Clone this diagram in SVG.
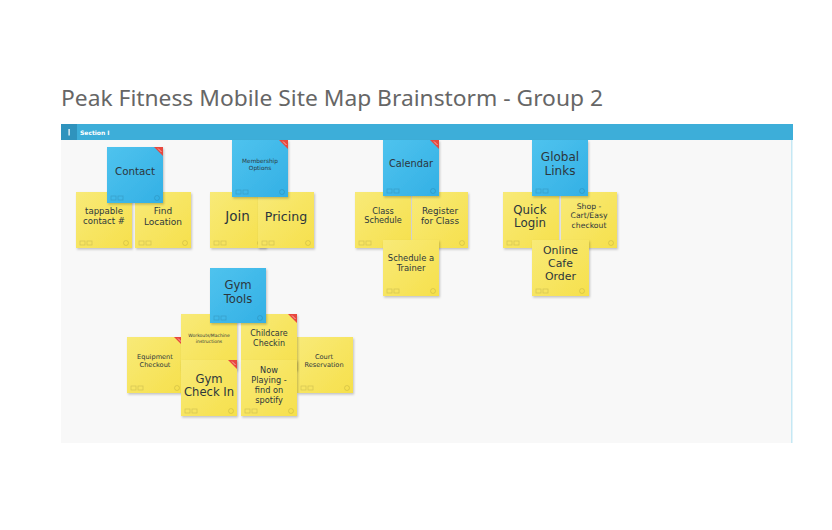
<svg xmlns="http://www.w3.org/2000/svg" width="832" height="530" viewBox="0 0 832 530">
<defs>
<linearGradient id="gy" x1="0" y1="0" x2="1" y2="1">
<stop offset="0" stop-color="#f8ea78"/><stop offset="1" stop-color="#f6e04c"/>
</linearGradient>
<linearGradient id="gb" x1="0" y1="0" x2="1" y2="1">
<stop offset="0" stop-color="#4fc3ee"/><stop offset="1" stop-color="#33b0e5"/>
</linearGradient>
<filter id="sh" x="-20%" y="-20%" width="150%" height="150%">
<feDropShadow dx="1" dy="1.5" stdDeviation="1.2" flood-color="#000" flood-opacity="0.22"/>
</filter>
<g id="foot" fill="none" stroke="#000" stroke-opacity="0.13" stroke-width="0.8">
<rect x="4" y="49" width="5" height="4"/>
<rect x="11" y="49" width="5" height="4"/>
<circle cx="50" cy="51" r="2.5"/>
</g>
<g id="tag">
<polygon points="47,0 56,0 56,9" fill="#e8473e"/>
<path d="M51,1.5 L54.5,5" stroke="#fff" stroke-width="0.7" stroke-opacity="0.8"/>
</g>
</defs>
<style>
.y{fill:url(#gy);filter:url(#sh)}
.b{fill:url(#gb);filter:url(#sh)}
text{font-family:"DejaVu Sans","Noto Sans",sans-serif;fill:#2c363c;text-anchor:middle}
.title{font-family:"Noto Sans","Open Sans","Liberation Sans",sans-serif;fill:#666;text-anchor:start;font-size:22px}
.sec{fill:#fff;text-anchor:start;font-size:6px;font-weight:bold}
</style>

<text class="title" x="61" y="106" textLength="542" lengthAdjust="spacingAndGlyphs">Peak Fitness Mobile Site Map Brainstorm - Group 2</text>

<g id="section">
<rect x="61" y="140" width="731" height="303" fill="#f8f8f8"/>
<rect x="791" y="140" width="1.5" height="303" fill="#c5e8f4"/>
<rect x="61" y="124" width="732" height="16" fill="#3daed9"/>
<rect x="61" y="124" width="16" height="16" fill="#2f93bd"/>
<rect x="68.5" y="129" width="1.2" height="6.5" fill="#fff"/>
<text class="sec" x="80" y="134.5">Section I</text>
</g>

<g id="connectors"></g>

<!-- Contact group -->
<g id="n-tappable" transform="translate(76,192)"><rect class="y" width="56" height="56"/><use href="#foot"/>
<text font-size="8.6" x="28" y="21.5">tappable<tspan x="28" dy="10.2">contact #</tspan></text></g>
<g id="n-find" transform="translate(135,192)"><rect class="y" width="56" height="56"/><use href="#foot"/>
<text font-size="9" x="28" y="22">Find<tspan x="28" dy="10.6">Location</tspan></text></g>
<g id="n-contact" transform="translate(107,147)"><rect class="b" width="56" height="56"/><use href="#foot"/><use href="#tag"/>
<text font-size="10.3" x="28" y="27.8">Contact</text></g>

<!-- Membership group -->
<g id="n-join" transform="translate(210,192)"><rect class="y" width="56" height="56"/><use href="#foot"/>
<text font-size="13.5" x="27.5" y="28.8">Join</text></g>
<g id="n-pricing" transform="translate(258,192)"><rect class="y" width="56" height="56"/><use href="#foot"/>
<text font-size="12.6" x="28" y="28.8">Pricing</text></g>
<g id="n-membership" transform="translate(232,140)"><rect class="b" width="56" height="57"/><use href="#foot" y="1"/><use href="#tag"/>
<text font-size="5.8" x="28" y="23.2">Membership<tspan x="28" dy="6.8">Options</tspan></text></g>

<!-- Calendar group -->
<g id="n-class" transform="translate(355,192)"><rect class="y" width="56" height="56"/><use href="#foot"/>
<text font-size="8.2" x="28" y="21.8">Class<tspan x="28" dy="9.6">Schedule</tspan></text></g>
<g id="n-register" transform="translate(412,192)"><rect class="y" width="56" height="56"/><use href="#foot"/>
<text font-size="8.8" x="28" y="22">Register<tspan x="28" dy="10.3">for Class</tspan></text></g>
<g id="n-calendar" transform="translate(383,140)"><rect class="b" width="56" height="56"/><use href="#foot"/><use href="#tag"/>
<text font-size="9.8" x="28" y="27.3">Calendar</text></g>
<g id="n-trainer" transform="translate(383,240)"><rect class="y" width="56" height="56"/><use href="#foot"/>
<text font-size="8.4" x="28" y="20.8">Schedule a<tspan x="28" dy="10">Trainer</tspan></text></g>

<!-- Global links group -->
<g id="n-quick" transform="translate(503,192)"><rect class="y" width="56" height="56"/><use href="#foot"/>
<text font-size="11.8" x="27" y="21.5">Quick<tspan x="27" dy="13.8">Login</tspan></text></g>
<g id="n-shop" transform="translate(561,192)"><rect class="y" width="56" height="56"/><use href="#foot"/>
<text font-size="7.7" x="28" y="17.3">Shop -<tspan x="28" dy="9.1">Cart/Easy</tspan><tspan x="28" dy="9.1">checkout</tspan></text></g>
<g id="n-global" transform="translate(532,140)"><rect class="b" width="56" height="56"/><use href="#foot"/>
<text font-size="12" x="28" y="20.8">Global<tspan x="28" dy="14">Links</tspan></text></g>
<g id="n-cafe" transform="translate(532,240)"><rect class="y" width="57" height="56"/><use href="#foot"/>
<text font-size="10.9" x="28.5" y="14.3">Online<tspan x="28.5" dy="13">Cafe</tspan><tspan x="28.5" dy="12.8">Order</tspan></text></g>

<!-- Gym tools group -->
<g id="n-equipment" transform="translate(127,337)"><rect class="y" width="56" height="56"/><use href="#foot"/><use href="#tag"/>
<text font-size="6.6" x="28" y="22.3">Equipment<tspan x="28" dy="7.8">Checkout</tspan></text></g>
<g id="n-court" transform="translate(297,337)"><rect class="y" width="56" height="56"/><use href="#foot"/>
<text font-size="6.6" x="27" y="22.3">Court<tspan x="27" dy="7.8">Reservation</tspan></text></g>
<g id="n-workouts" transform="translate(181,314)"><rect class="y" width="56" height="56"/><use href="#foot"/>
<text font-size="4.5" x="28" y="23.3">Workouts/Machine<tspan x="28" dy="5.3">instructions</tspan></text></g>
<g id="n-childcare" transform="translate(241,314)"><rect class="y" width="56" height="56"/><use href="#foot"/><use href="#tag"/>
<text font-size="8" x="28" y="22.2">Childcare<tspan x="28" dy="9.4">Checkin</tspan></text></g>
<g id="n-gymcheck" transform="translate(181,360)"><rect class="y" width="56" height="56"/><use href="#foot"/><use href="#tag"/>
<text font-size="11.6" x="28" y="22.6">Gym<tspan x="28" dy="13.6">Check In</tspan></text></g>
<g id="n-nowplaying" transform="translate(241,360)"><rect class="y" width="56" height="56"/><use href="#foot"/>
<text font-size="8.2" x="28" y="13.3">Now<tspan x="28" dy="9.7">Playing -</tspan><tspan x="28" dy="9.8">find on</tspan><tspan x="28" dy="9.8">spotify</tspan></text></g>
<g id="n-gymtools" transform="translate(210,268)"><rect class="b" width="56" height="55"/><use href="#foot" y="-1"/>
<text font-size="11.6" x="28" y="21.2">Gym<tspan x="28" dy="13.6">Tools</tspan></text></g>
</svg>
